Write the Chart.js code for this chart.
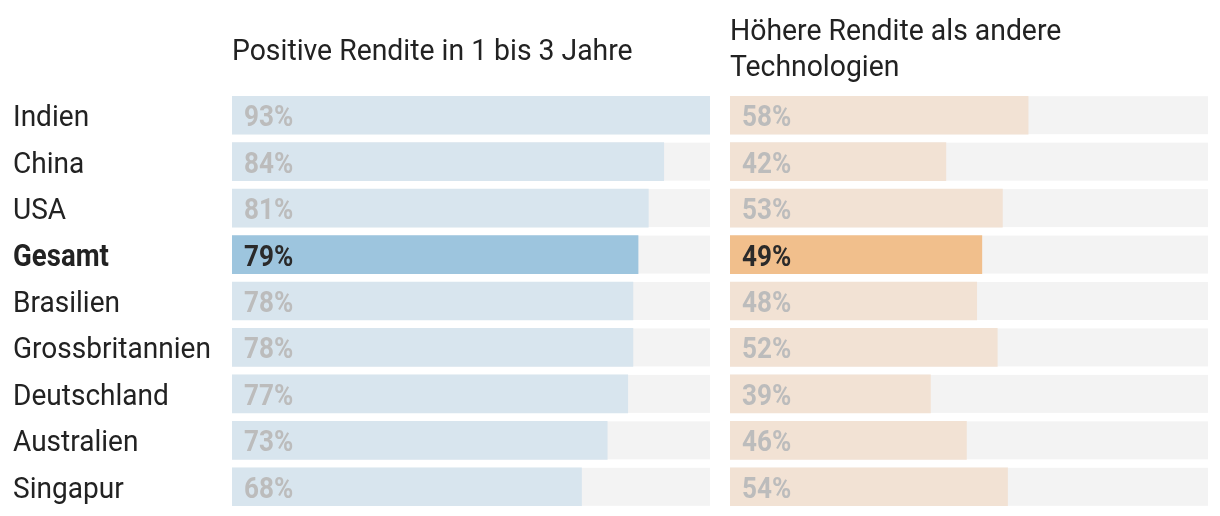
<!DOCTYPE html>
<html><head><meta charset="utf-8">
<script src="https://cdn.jsdelivr.net/npm/chart.js@4.4.1/dist/chart.umd.min.js"></script>
<style>
html,body{margin:0;padding:0;background:#fff;}
#wrap{position:relative;width:1220px;height:516px;overflow:hidden;}
.box{position:absolute;top:0;height:516px;}
</style></head><body>
<div id="wrap">
  <div class="box" style="left:0;width:710px"><canvas id="c1"></canvas></div>
  <div class="box" style="left:730px;width:478px"><canvas id="c2"></canvas></div>
</div>
<script>
const categories = ['Indien','China','USA','Gesamt','Brasilien','Grossbritannien','Deutschland','Australien','Singapur'];
const positiveReturn = [93,84,81,79,78,78,77,73,68];
const higherReturn = [58,42,53,49,48,52,39,46,54];
const highlightCategory = 'Gesamt';
const scaleMax = 93;
const titleLeft = ['Positive Rendite in 1 bis 3 Jahre'];
const titleRight = ['Höhere Rendite als andere','Technologien'];

const FONT = 'Roboto, "Noto Sans", sans-serif';

function drawText(ctx, text, x, y, font, color, squeeze){
  ctx.save();
  ctx.font = font;
  ctx.fillStyle = color;
  ctx.textBaseline = 'alphabetic';
  ctx.textAlign = 'left';
  ctx.translate(x, y);
  ctx.scale(squeeze, 1);
  ctx.fillText(text, 0, 0);
  ctx.restore();
}

const trackPlugin = {
  id: 'track',
  beforeDatasetsDraw(chart){
    const ctx = chart.ctx, a = chart.chartArea;
    const meta = chart.getDatasetMeta(0);
    ctx.save();
    ctx.fillStyle = '#f3f3f3';
    meta.data.forEach(el => {
      ctx.fillRect(a.left, el.y - el.height/2, a.right - a.left, el.height);
    });
    ctx.restore();
  }
};

const textPlugin = {
  id: 'panelText',
  afterDatasetsDraw(chart, args, opts){
    const ctx = chart.ctx, a = chart.chartArea;
    const meta = chart.getDatasetMeta(0);
    opts.title.forEach((line, i) => {
      drawText(ctx, line, a.left, opts.titleBaselines[i], '400 30px ' + FONT, '#222222', 0.945);
    });
    meta.data.forEach((el, i) => {
      const cat = chart.data.labels[i];
      const strong = cat === highlightCategory;
      const val = chart.data.datasets[0].data[i];
      drawText(ctx, val + '%', a.left + 12, el.y + 11,
        '700 30px ' + FONT, strong ? '#2a2a2a' : '#bcbcbc', 0.87);
      if (opts.showLabels){
        if (strong) {
          drawText(ctx, cat, 13, el.y + 11, '700 31px ' + FONT, '#222222', 0.89);
        } else {
          drawText(ctx, cat, 13, el.y + 11, '400 30px ' + FONT, '#222222', 0.935);
        }
      }
    });
  }
};

function makePanel(id, values, light, strong, title, titleBaselines, showLabels, padLeft){
  new Chart(document.getElementById(id), {
    type: 'bar',
    data: {
      labels: categories,
      datasets: [{
        data: values,
        backgroundColor: categories.map(c => c === highlightCategory ? strong : light),
        borderWidth: 0,
        barThickness: 38
      }]
    },
    options: {
      indexAxis: 'y',
      responsive: true,
      maintainAspectRatio: false,
      animation: false,
      layout: { padding: { left: padLeft, right: 0, top: 92, bottom: 6 } },
      scales: {
        x: { type: 'linear', min: 0, max: scaleMax, display: false },
        y: { type: 'category', display: false }
      },
      plugins: {
        legend: { display: false },
        tooltip: { enabled: false },
        panelText: { title: title, titleBaselines: titleBaselines, showLabels: showLabels }
      }
    },
    plugins: [trackPlugin, textPlugin]
  });
}

makePanel('c1', positiveReturn, '#d8e5ee', '#9dc5de', titleLeft, [60], true, 232);
makePanel('c2', higherReturn, '#f2e2d4', '#f1bf8c', titleRight, [40, 76], false, 0);
</script>
</body></html>
